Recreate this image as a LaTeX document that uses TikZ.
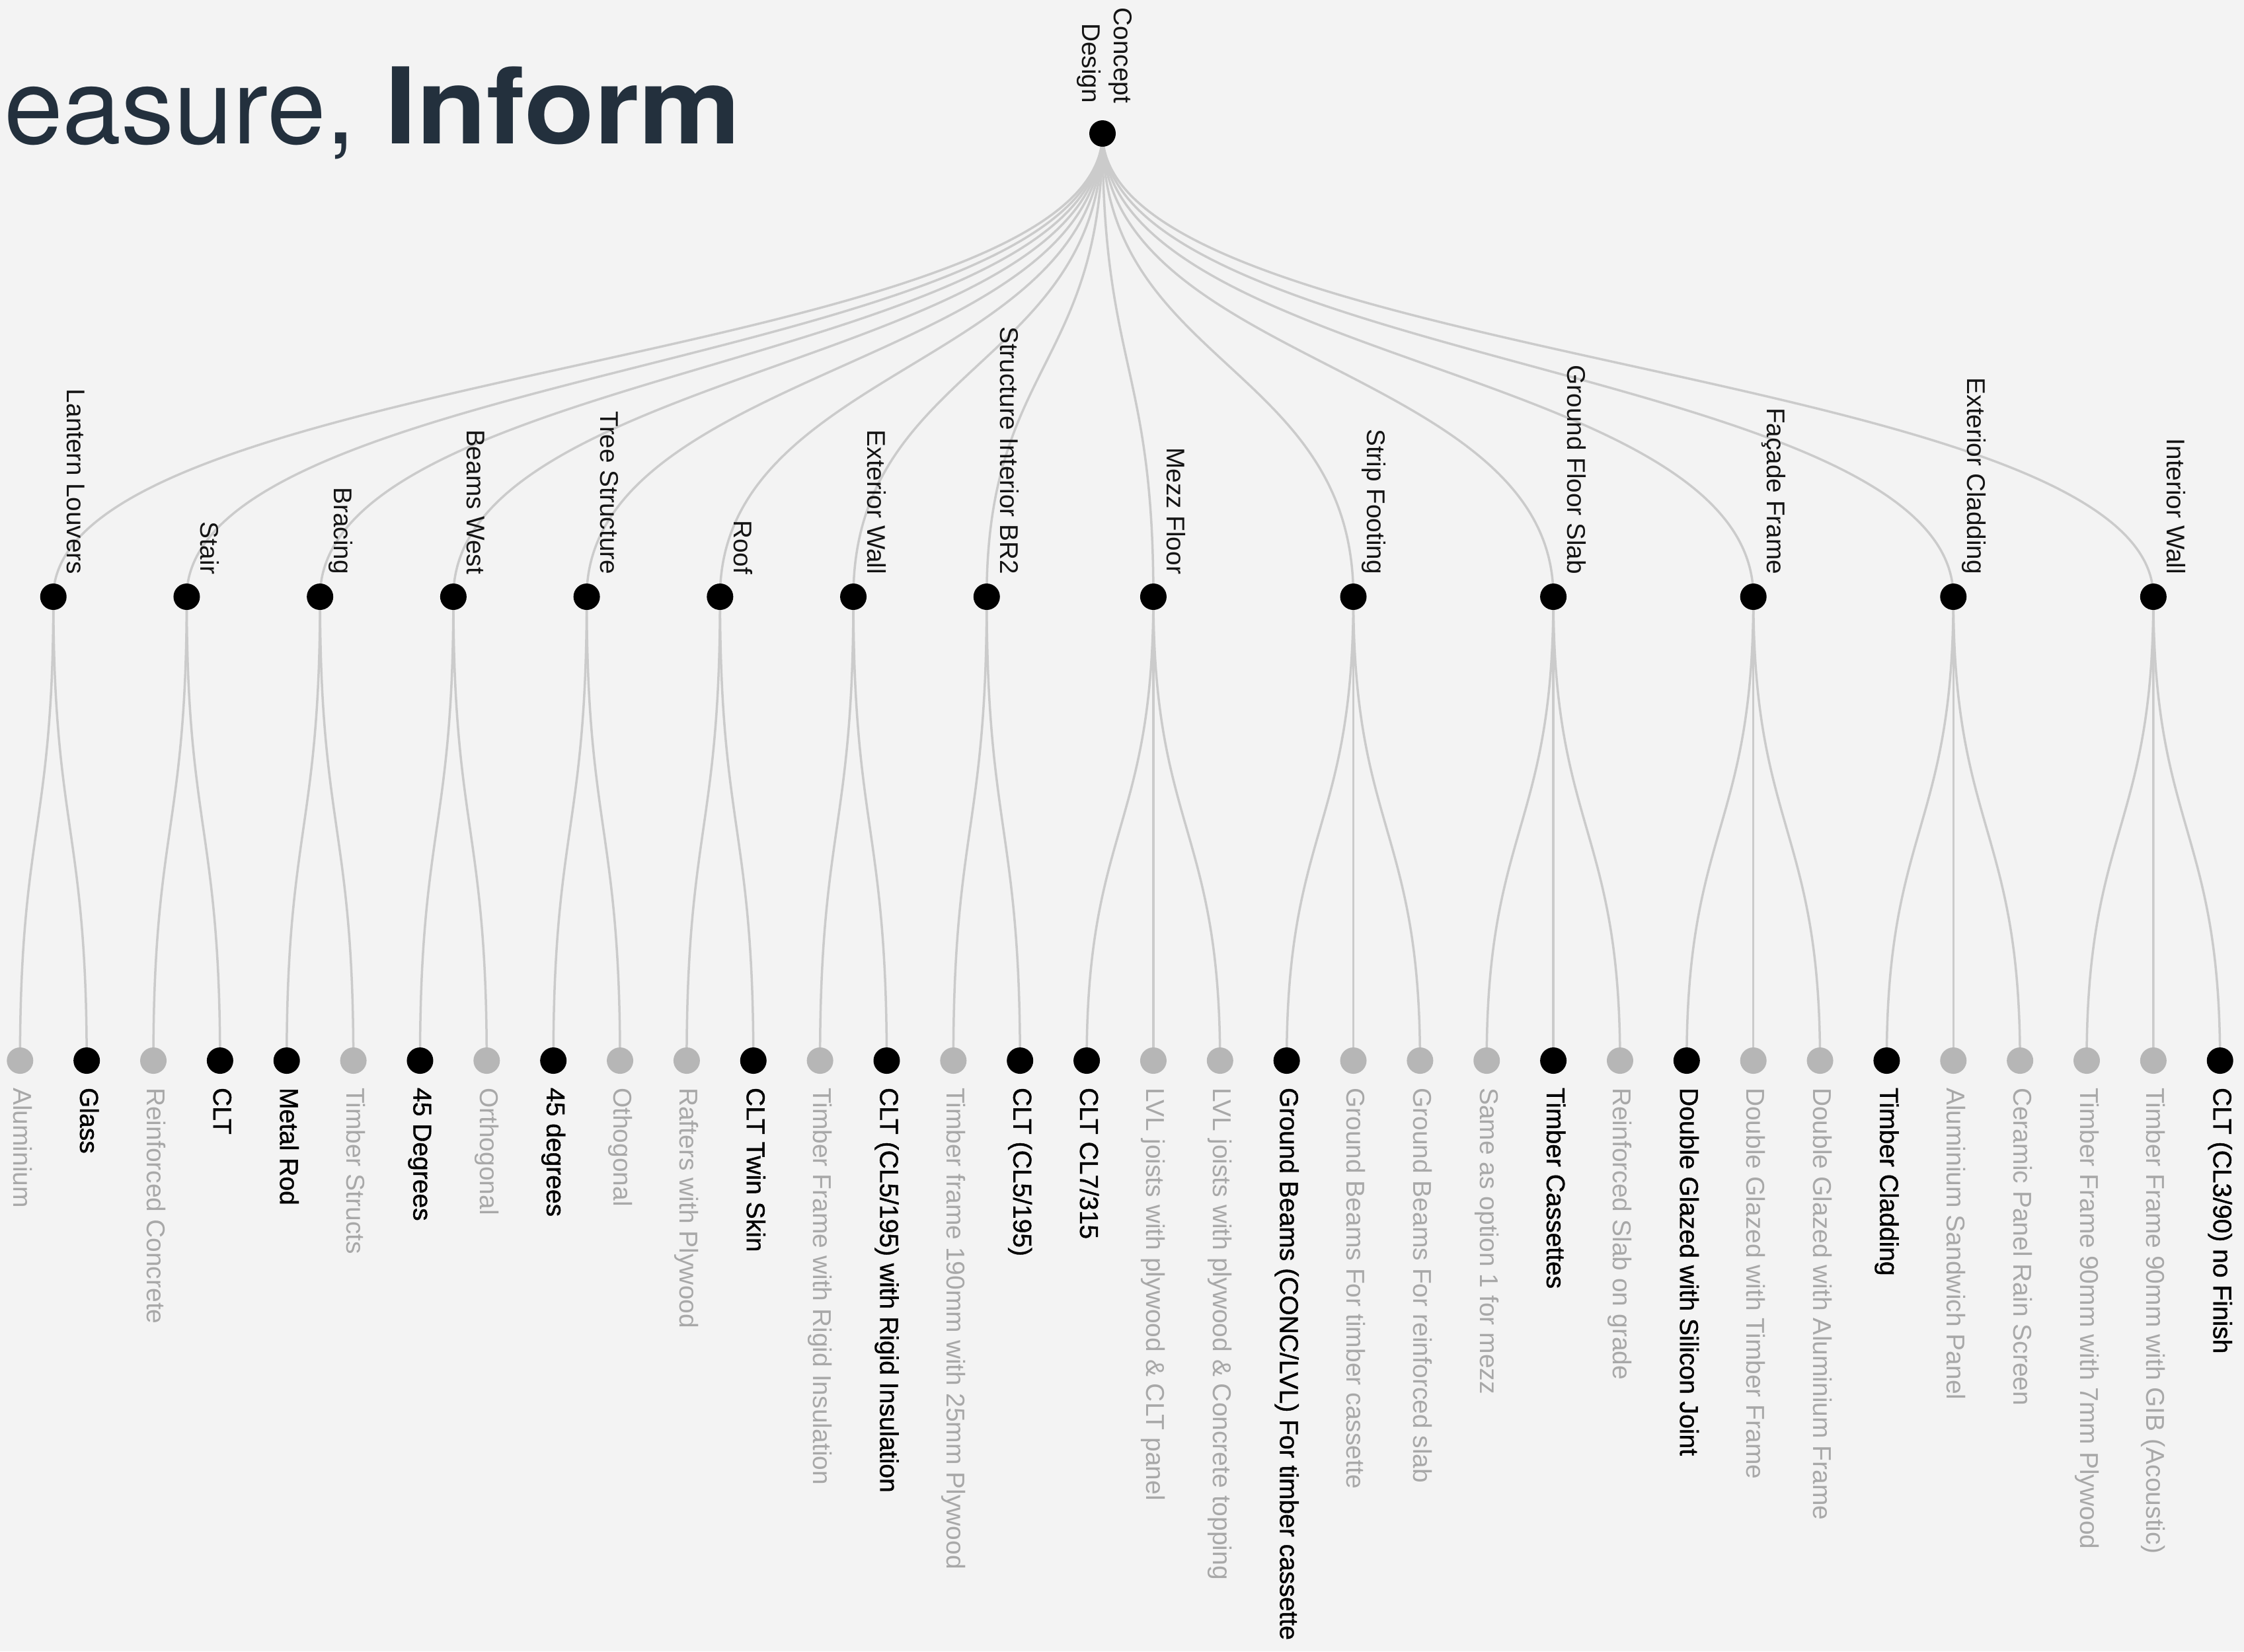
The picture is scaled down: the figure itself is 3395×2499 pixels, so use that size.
\documentclass[tikz,border=0pt]{standalone}
\usepackage{fontspec}
\usepackage{graphicx}
\setmainfont{Liberation Sans}
\newfontfamily\labfont{Liberation Sans}
\newfontfamily\selfont[FakeBold=1]{Liberation Sans}
\newfontfamily\titlefont{TeX Gyre Heros}
\usetikzlibrary{backgrounds}
\definecolor{bgc}{RGB}{243,243,243}
\definecolor{edgec}{RGB}{203,203,203}
\definecolor{dotgrayc}{RGB}{182,182,182}
\definecolor{labgrayc}{RGB}{168,168,168}
\definecolor{labblackc}{RGB}{20,20,20}
\definecolor{titlec}{RGB}{35,48,61}
\pgfdeclarelayer{edgelayer}
\pgfsetlayers{background,edgelayer,main}
\tikzset{
  edge/.style={draw=edgec, line width=0.7pt},
  dotsel/.style={circle, fill=black, minimum size=8pt, inner sep=0pt},
  dotuns/.style={circle, fill=dotgrayc, minimum size=8pt, inner sep=0pt},
  l1lab/.style={rotate=-90, anchor=base east, inner sep=0pt, text=labblackc,
    font=\labfont\fontsize{7.75}{9}\selectfont},
  labsel/.style={rotate=-90, anchor=base west, inner sep=0pt, text=black,
    font=\selfont\fontsize{7.8}{9}\selectfont},
  labuns/.style={rotate=-90, anchor=base west, inner sep=0pt, text=labgrayc,
    font=\labfont\fontsize{7.8}{9}\selectfont},
}
\begin{document}
\begin{tikzpicture}[x=0.2pt,y=-0.2pt]
\useasboundingbox (0,0) rectangle (3395,2499);
\begin{pgfonlayer}{background}
  \fill[bgc] (0,0) rectangle (3395,2499);
\end{pgfonlayer}

% title
\node[anchor=base west, inner sep=0pt, text=titlec,
  font=\titlefont\fontsize{32}{38}\selectfont] (title) at (5,217)
  {easure, \scalebox{1.085}[1]{\bfseries Inform}};

% helper mid-levels
\coordinate (m1) at (0,552.5);
\coordinate (m2) at (0,1254);

% root
\node[dotsel] (root) at (1668,202) {};
\node[l1lab] (rlabA) at (1685,157) {Concept};
\node[l1lab] (rlabB) at (1637,157) {Design};

% level 1
\foreach \k/\xx/\t in {
  0/80.73/Lantern Louvers,
  1/282.45/Stair,
  2/484.17/Bracing,
  3/685.89/Beams West,
  4/887.61/Tree Structure,
  5/1089.33/Roof,
  6/1291.05/Exterior Wall,
  7/1492.77/Structure Interior BR2,
  8/1744.92/Mezz Floor,
  9/2047.5/Strip Footing,
  10/2350.08/Ground Floor Slab,
  11/2652.66/Façade Frame,
  12/2955.24/Exterior Cladding,
  13/3257.82/Interior Wall}{
  \node[dotsel] (a\k) at (\xx,903) {};
  \node[l1lab] (la\k) at (\xx+21,870) {\t};
}

% leaves
\foreach \i/\t/\s in {
  0/Aluminium/uns,
  1/Glass/sel,
  2/Reinforced Concrete/uns,
  3/CLT/sel,
  4/Metal Rod/sel,
  5/Timber Structs/uns,
  6/45 Degrees/sel,
  7/Orthogonal/uns,
  8/45 degrees/sel,
  9/Othogonal/uns,
  10/Rafters with Plywood/uns,
  11/CLT Twin Skin/sel,
  12/Timber Frame with Rigid Insulation/uns,
  13/{CLT (CL5/195) with Rigid Insulation}/sel,
  14/Timber frame 190mm with 25mm Plywood/uns,
  15/{CLT (CL5/195)}/sel,
  16/{CLT CL7/315}/sel,
  17/LVL joists with plywood \& CLT panel/uns,
  18/LVL joists with plywood \& Concrete topping/uns,
  19/{Ground Beams (CONC/LVL) For timber cassette}/sel,
  20/Ground Beams For timber cassette/uns,
  21/Ground Beams For reinforced slab/uns,
  22/Same as option 1 for mezz/uns,
  23/Timber Cassettes/sel,
  24/Reinforced Slab on grade/uns,
  25/Double Glazed with Silicon Joint/sel,
  26/Double Glazed with Timber Frame/uns,
  27/Double Glazed with Aluminium Frame/uns,
  28/Timber Cladding/sel,
  29/Aluminium Sandwich Panel/uns,
  30/Ceramic Panel Rain Screen/uns,
  31/Timber Frame 90mm with 7mm Plywood/uns,
  32/Timber Frame 90mm with GIB (Acoustic)/uns,
  33/{CLT (CL3/90) no Finish}/sel}{
  \pgfmathsetmacro\xx{30.3+100.86*\i}
  \node[dot\s] (b\i) at (\xx,1605) {};
  \node[lab\s] (lb\i) at (\xx-10,1645) {\t};
}

% edges
\begin{pgfonlayer}{edgelayer}
\foreach \k in {0,...,13}{
  \draw[edge] (root.center) .. controls (root.center |- m1) and (a\k.center |- m1) .. (a\k.center);
}
\foreach \p/\c in {a0/b0,a0/b1,a1/b2,a1/b3,a2/b4,a2/b5,a3/b6,a3/b7,a4/b8,a4/b9,
  a5/b10,a5/b11,a6/b12,a6/b13,a7/b14,a7/b15,a8/b16,a8/b17,a8/b18,
  a9/b19,a9/b20,a9/b21,a10/b22,a10/b23,a10/b24,a11/b25,a11/b26,a11/b27,
  a12/b28,a12/b29,a12/b30,a13/b31,a13/b32,a13/b33}{
  \draw[edge] (\p.center) .. controls (\p.center |- m2) and (\c.center |- m2) .. (\c.center);
}
\end{pgfonlayer}
\end{tikzpicture}
\end{document}
